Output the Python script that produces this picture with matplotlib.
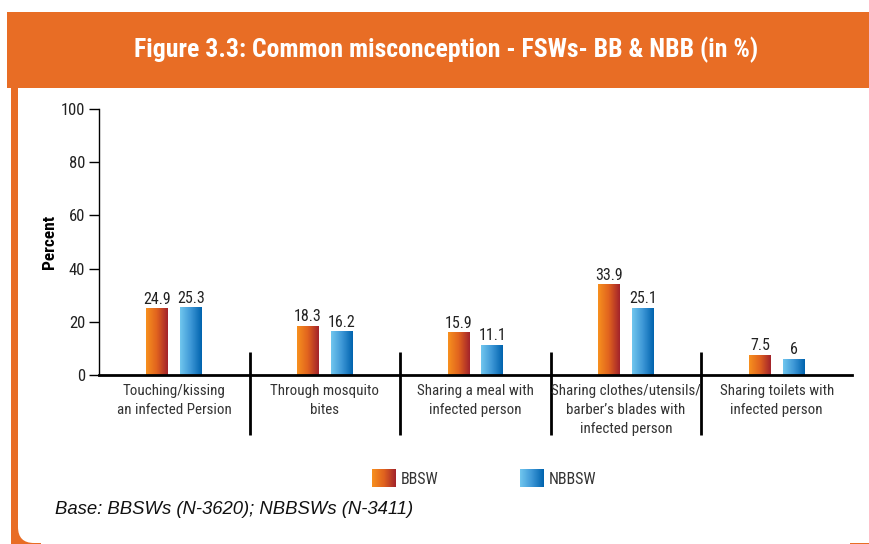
import numpy as np
import matplotlib.pyplot as plt
from matplotlib.patches import Rectangle, FancyBboxPatch
from matplotlib.colors import LinearSegmentedColormap

# data
categories = ["Touching/kissing\nan infected Persion",
              "Through mosquito\nbites",
              "Sharing a meal with\ninfected person",
              "Sharing clothes/utensils/\nbarber\u2019s blades with\ninfected person",
              "Sharing toilets with\ninfected person"]
bbsw = [24.9, 18.3, 15.9, 33.9, 7.5]
nbbsw = [25.3, 16.2, 11.1, 25.1, 6]
bbsw_labels = ["24.9", "18.3", "15.9", "33.9", "7.5"]
nbbsw_labels = ["25.3", "16.2", "11.1", "25.1", "6"]
series_names = ["BBSW", "NBBSW"]

ORANGE = "#E86D25"
cm_or = LinearSegmentedColormap.from_list("or", ["#F7901E", "#E0621F", "#A3232B"])
cm_bl = LinearSegmentedColormap.from_list("bl", ["#70C6EE", "#3D97D6", "#0063AE"])
grad = np.linspace(0, 1, 64).reshape(1, -1)

NARROW = "Roboto Condensed"

W, H = 870, 544
fig = plt.figure(figsize=(W / 100, H / 100), dpi=100)

# background frame in pixel coordinates
bg = fig.add_axes([0, 0, 1, 1])
bg.set_xlim(0, W)
bg.set_ylim(H, 0)
bg.axis("off")
bg.add_patch(Rectangle((11, 80), 10, H - 80, color=ORANGE, lw=0))
bg.add_patch(Rectangle((11, 515), 30, 35, color=ORANGE, lw=0))
bg.add_patch(Rectangle((850, 530), 25, 20, color=ORANGE, lw=0))
bg.add_patch(FancyBboxPatch((18, 60), 900, H - 60 - 1, boxstyle="round,pad=0,rounding_size=16",
                            fc="white", ec="none"))
bg.add_patch(Rectangle((7, 12), W - 7, 76, color=ORANGE, lw=0))
bg.text(446, 50, "Figure 3.3: Common misconception - FSWs- BB & NBB (in %)",
        color="white", fontsize=18.5, fontweight="bold", family=NARROW,
        ha="center", va="center")

# legend swatches
for x0, cm, name in [(372, cm_or, series_names[0]), (520, cm_bl, series_names[1])]:
    bg.imshow(grad, cmap=cm, extent=(x0, x0 + 24, 487, 469), aspect="auto", zorder=3)
    bg.text(x0 + 29, 479, name, fontsize=11.5, family=NARROW, color="#333333",
            ha="left", va="center")
bg.set_xlim(0, W)
bg.set_ylim(H, 0)

bg.text(55, 510, "Base: BBSWs (N-3620); NBBSWs (N-3411)", fontsize=13.3,
        style="italic", family="Liberation Sans", color="#111111", va="center")

# main chart
ax = fig.add_axes([99 / W, 1 - 375 / H, (852 - 99) / W, (375 - 109) / H])
ax.patch.set_alpha(0)
x = np.arange(len(categories))
bw = 0.146
off = 0.112
b1 = ax.bar(x - off, bbsw, bw, color="none")
b2 = ax.bar(x + off, nbbsw, bw, color="none")
for bars, cm in [(b1, cm_or), (b2, cm_bl)]:
    for r in bars:
        ax.imshow(grad, cmap=cm, aspect="auto", zorder=2,
                  extent=(r.get_x(), r.get_x() + r.get_width(), 0, r.get_height()))
for bars, labs in [(b1, bbsw_labels), (b2, nbbsw_labels)]:
    for r, t in zip(bars, labs):
        ax.text(r.get_x() + r.get_width() / 2, r.get_height() + 0.8, t,
                ha="center", va="bottom", fontsize=11.5, family=NARROW, color="#222222")

ax.set_xlim(-0.5, len(categories) - 0.5)
ax.set_ylim(0, 100)
ax.set_yticks(range(0, 101, 20))
ax.tick_params(axis="y", length=7, width=1, labelsize=12, pad=3)
for lab in ax.get_yticklabels():
    lab.set_family(NARROW)
    lab.set_color("#222222")
ax.set_xticks([])
for s in ["top", "right"]:
    ax.spines[s].set_visible(False)
ax.spines["left"].set_linewidth(1)
ax.spines["bottom"].set_linewidth(2)
ax.set_ylabel("Percent", fontsize=12.5, fontweight="bold", family=NARROW, labelpad=3)

# group separators and category labels
ax.vlines(x[:-1] + 0.5, -22.5, 8.6, colors="black", lw=2, clip_on=False)
for xi, c in zip(x, categories):
    ax.text(xi, -3.3, c, ha="center", va="top", fontsize=10.8, family=NARROW,
            color="#333333", linespacing=1.48)

fig.savefig("out.png", dpi=100)
